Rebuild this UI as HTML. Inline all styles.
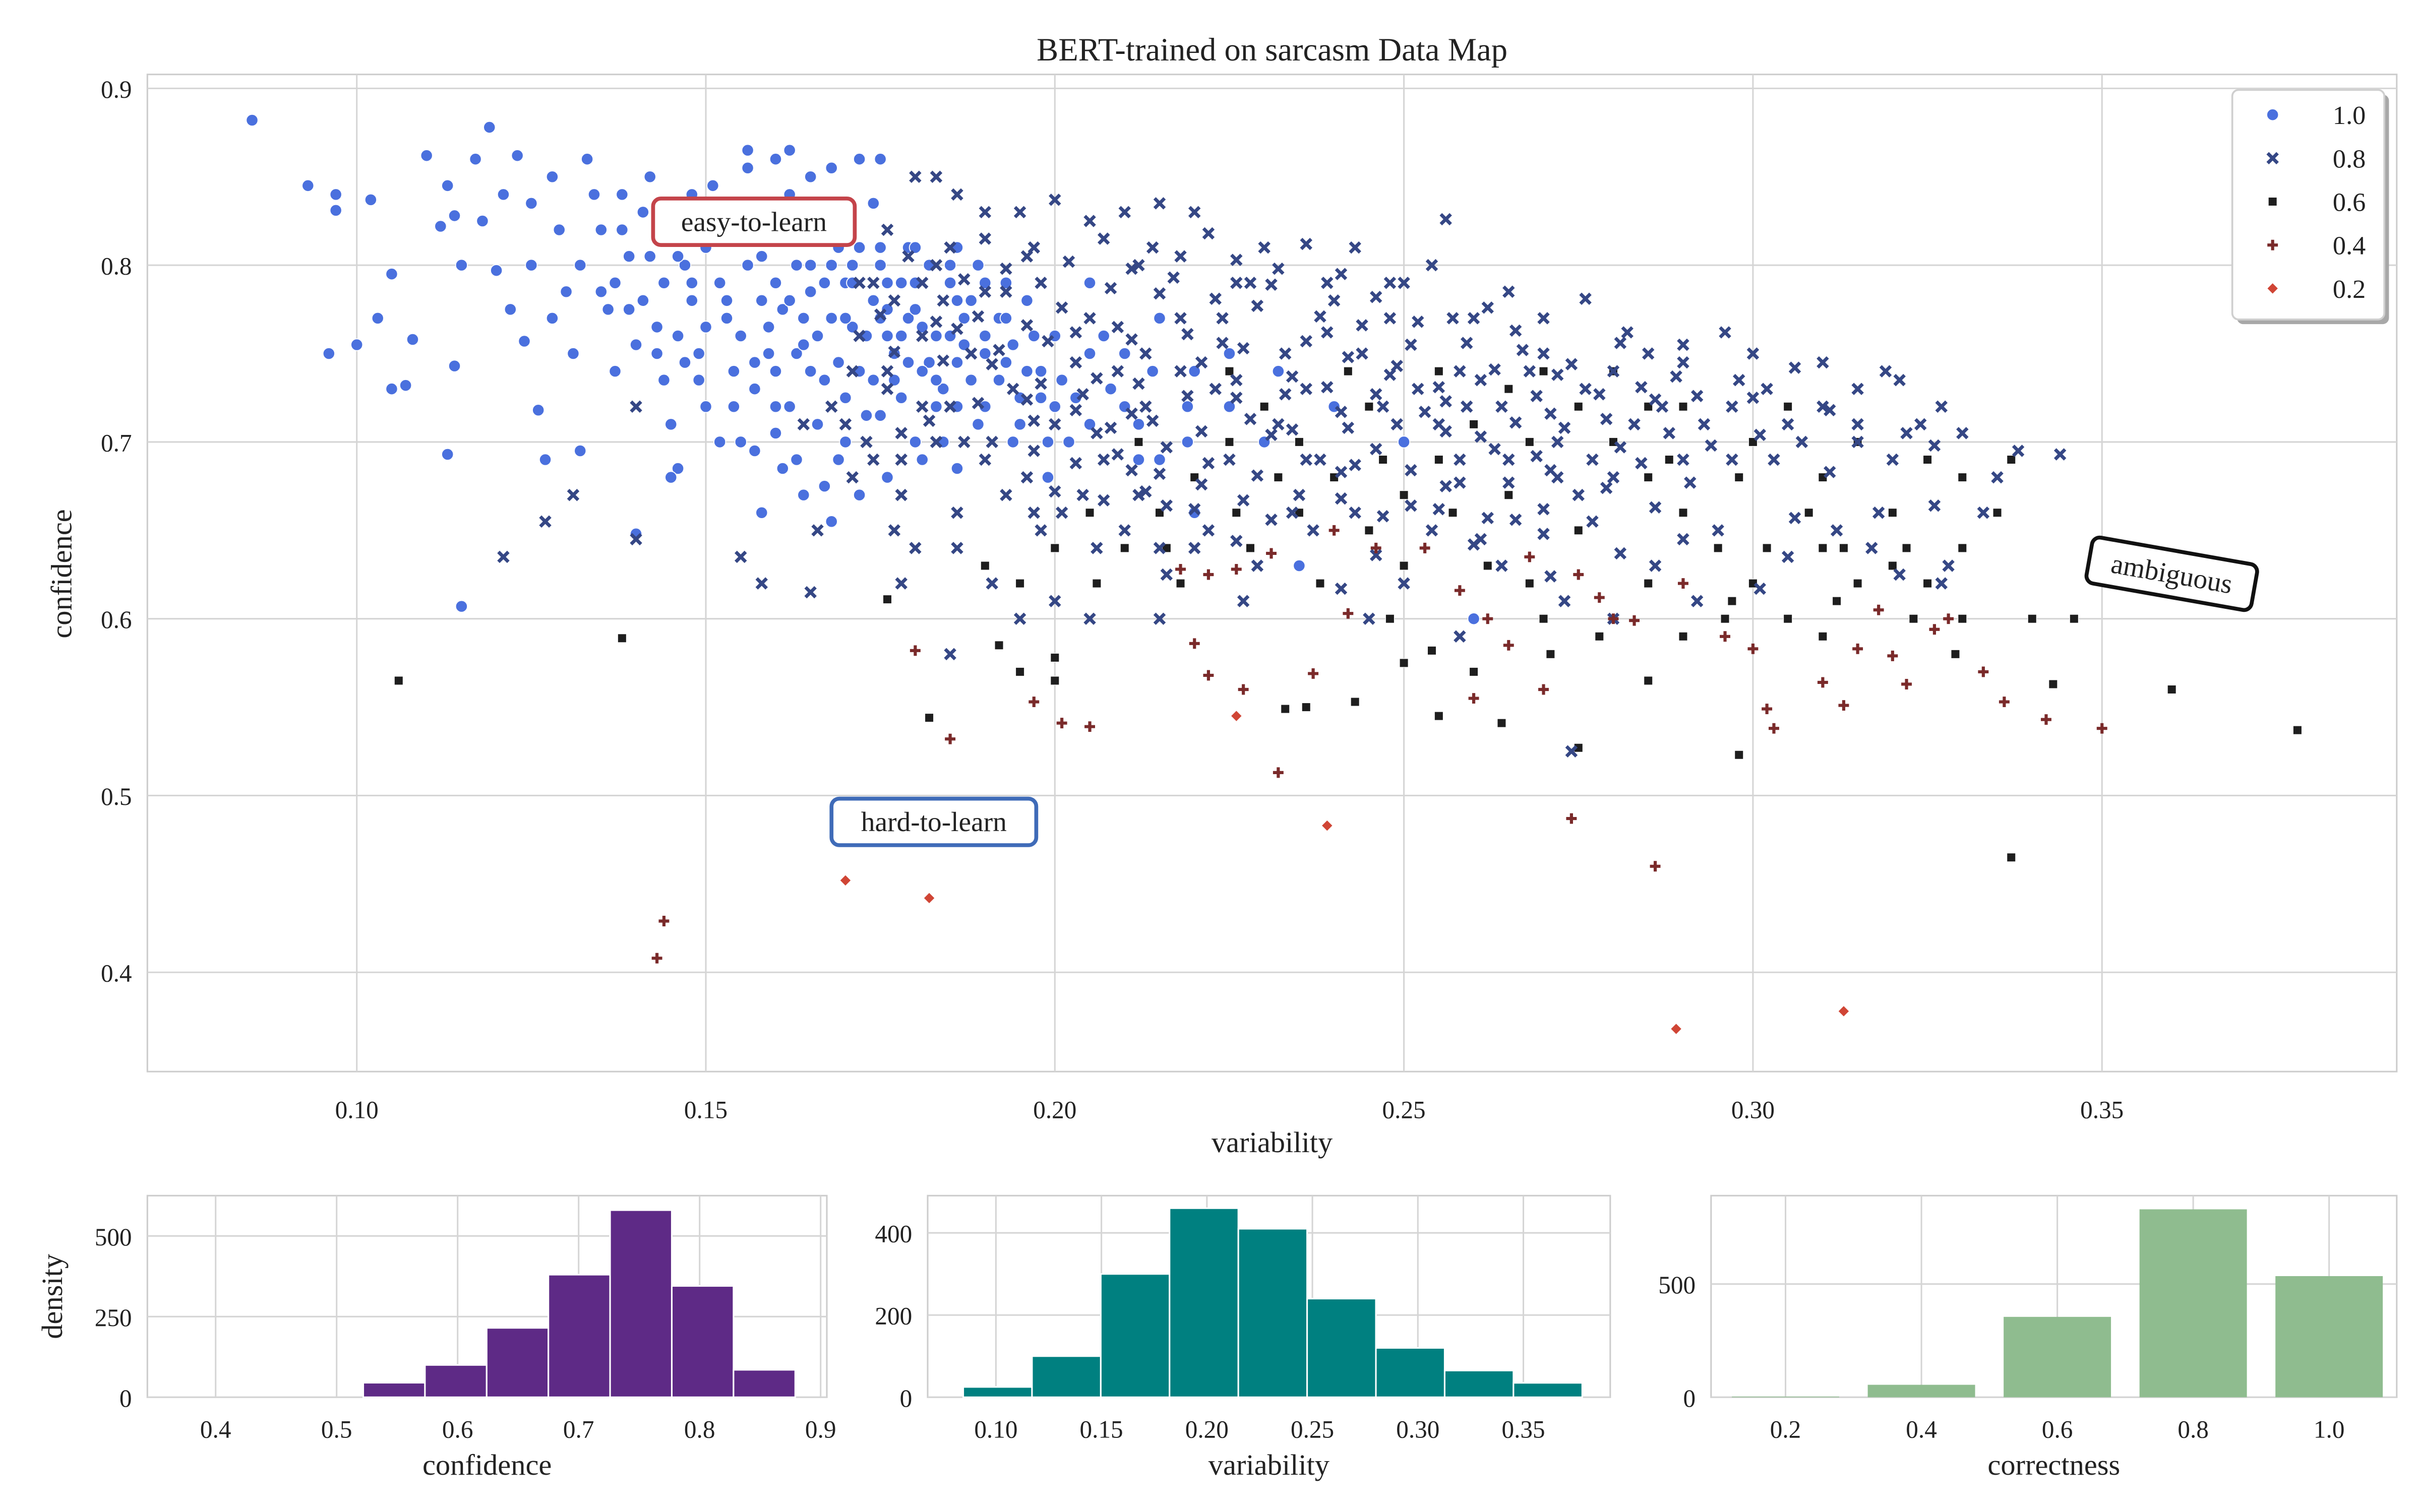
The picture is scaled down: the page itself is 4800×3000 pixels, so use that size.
<!DOCTYPE html>
<html><head><meta charset="utf-8"><style>
html,body{margin:0;padding:0;background:#fff}
svg{display:block}
text{font-family:"Liberation Serif",serif;fill:#222}
</style></head><body>
<svg id="chart" width="4800" height="3000" viewBox="0 0 1560 975" xmlns="http://www.w3.org/2000/svg">
<rect x="0" y="0" width="1560" height="975" fill="#fff"/>
<g id="main"></g><g id="h1"></g><g id="h2"></g><g id="h3"></g>
</svg>
<script>
// ---------- DATA ----------
const legendLabels = ["1.0","0.8","0.6","0.4","0.2"];
const xTicksMain = [0.10,0.15,0.20,0.25,0.30,0.35];
const yTicksMain = [0.4,0.5,0.6,0.7,0.8,0.9];
const pts10 = [[0.085,0.882],[0.093,0.845],[0.097,0.84],[0.097,0.831],[0.096,0.75],[0.1,0.755],[0.102,0.837],[0.103,0.77],[0.105,0.795],[0.105,0.73],[0.107,0.732],[0.108,0.758],[0.11,0.862],[0.112,0.822],[0.114,0.828],[0.115,0.8],[0.113,0.845],[0.114,0.743],[0.113,0.693],[0.115,0.607],[0.117,0.86],[0.118,0.825],[0.119,0.878],[0.12,0.797],[0.121,0.84],[0.122,0.775],[0.123,0.862],[0.124,0.757],[0.125,0.835],[0.126,0.718],[0.127,0.69],[0.128,0.85],[0.129,0.82],[0.13,0.785],[0.131,0.75],[0.132,0.695],[0.133,0.86],[0.134,0.84],[0.135,0.785],[0.136,0.775],[0.137,0.74],[0.138,0.84],[0.139,0.805],[0.14,0.755],[0.141,0.83],[0.142,0.805],[0.143,0.765],[0.144,0.735],[0.145,0.71],[0.146,0.685],[0.147,0.8],[0.148,0.78],[0.149,0.75],[0.15,0.72],[0.151,0.845],[0.152,0.79],[0.153,0.77],[0.154,0.74],[0.155,0.7],[0.156,0.865],[0.157,0.82],[0.158,0.78],[0.159,0.75],[0.16,0.72],[0.161,0.685],[0.162,0.84],[0.163,0.8],[0.164,0.77],[0.165,0.74],[0.166,0.71],[0.167,0.675],[0.168,0.855],[0.169,0.81],[0.17,0.79],[0.171,0.765],[0.172,0.74],[0.173,0.715],[0.174,0.835],[0.175,0.8],[0.176,0.775],[0.177,0.75],[0.178,0.725],[0.179,0.81],[0.18,0.79],[0.181,0.765],[0.182,0.745],[0.183,0.72],[0.184,0.7],[0.185,0.8],[0.186,0.78],[0.187,0.755],[0.188,0.735],[0.189,0.71],[0.19,0.79],[0.192,0.77],[0.193,0.745],[0.195,0.725],[0.197,0.76],[0.198,0.74],[0.2,0.72],[0.202,0.7],[0.205,0.75],[0.208,0.73],[0.212,0.71],[0.215,0.69],[0.158,0.66],[0.168,0.655],[0.172,0.67],[0.163,0.69],[0.145,0.68],[0.14,0.648],[0.152,0.7],[0.15,0.81],[0.16,0.79],[0.165,0.8],[0.17,0.77],[0.155,0.76],[0.147,0.82],[0.142,0.85],[0.138,0.82],[0.176,0.79],[0.182,0.8],[0.188,0.78],[0.178,0.76],[0.174,0.78],[0.166,0.76],[0.156,0.8],[0.153,0.83],[0.185,0.76],[0.193,0.77],[0.2,0.76],[0.21,0.75],[0.22,0.74],[0.215,0.77],[0.205,0.79],[0.161,0.775],[0.167,0.79],[0.171,0.8],[0.173,0.76],[0.179,0.77],[0.181,0.74],[0.186,0.745],[0.19,0.76],[0.184,0.73],[0.177,0.735],[0.169,0.745],[0.163,0.75],[0.157,0.745],[0.15,0.765],[0.146,0.76],[0.144,0.79],[0.141,0.78],[0.132,0.8],[0.128,0.77],[0.125,0.8],[0.135,0.82],[0.16,0.74],[0.175,0.715],[0.194,0.7],[0.199,0.68],[0.225,0.72],[0.23,0.7],[0.22,0.66],[0.235,0.63],[0.24,0.72],[0.25,0.7],[0.26,0.6],[0.172,0.86],[0.162,0.865],[0.156,0.855],[0.18,0.7],[0.186,0.685],[0.157,0.695],[0.17,0.7],
[0.171,0.79],[0.175,0.77],[0.178,0.79],[0.18,0.775],[0.183,0.76],[0.187,0.77],[0.19,0.75],[0.192,0.735],[0.194,0.755],[0.196,0.74],[0.198,0.725],[0.201,0.735],[0.203,0.725],[0.165,0.785],[0.168,0.77],[0.162,0.78],[0.159,0.765],[0.164,0.755],[0.167,0.735],[0.17,0.725],[0.174,0.735],[0.176,0.76],[0.179,0.745],[0.183,0.735],[0.186,0.72],[0.19,0.72],[0.195,0.71],[0.199,0.7],[0.185,0.79],[0.189,0.8],[0.193,0.79],[0.196,0.78],[0.175,0.81],[0.168,0.8],[0.158,0.805],[0.153,0.78],[0.148,0.79],[0.149,0.735],[0.157,0.73],[0.162,0.72],[0.154,0.72],[0.147,0.745],[0.143,0.75],[0.139,0.775],[0.137,0.79],[0.146,0.805],[0.151,0.825],[0.158,0.82],[0.166,0.825],[0.172,0.81],[0.18,0.81],[0.186,0.81],[0.205,0.71],[0.21,0.72],[0.207,0.76],[0.214,0.74],[0.219,0.72],[0.225,0.75],[0.232,0.74],[0.212,0.69],[0.219,0.7],[0.181,0.69],[0.176,0.68],[0.169,0.69],[0.164,0.67],[0.16,0.705],[0.175,0.86],[0.165,0.85],[0.16,0.86],[0.145,0.83],[0.148,0.84]];
const pts08 = [[0.121,0.635],[0.127,0.655],[0.131,0.67],[0.14,0.645],[0.14,0.72],[0.155,0.635],[0.158,0.62],[0.166,0.65],[0.165,0.615],[0.18,0.64],[0.185,0.58],[0.177,0.65],[0.178,0.69],[0.183,0.7],[0.18,0.85],[0.183,0.85],[0.186,0.84],[0.19,0.83],[0.195,0.83],[0.2,0.837],[0.21,0.83],[0.215,0.835],[0.22,0.83],[0.23,0.81],[0.239,0.79],[0.25,0.79],[0.256,0.826],[0.26,0.77],[0.27,0.75],[0.28,0.74],[0.29,0.745],[0.298,0.735],[0.3,0.725],[0.31,0.72],[0.319,0.74],[0.324,0.71],[0.33,0.705],[0.338,0.695],[0.344,0.693],[0.274,0.525],[0.28,0.6],[0.25,0.62],
[0.176,0.82],[0.19,0.815],[0.205,0.825],[0.222,0.818],[0.236,0.812],[0.183,0.8],[0.196,0.805],[0.211,0.798],[0.226,0.803],[0.241,0.795],[0.254,0.8],[0.177,0.78],[0.19,0.785],[0.201,0.776],[0.215,0.784],[0.229,0.777],[0.246,0.782],[0.262,0.776],[0.276,0.781],[0.172,0.76],[0.186,0.764],[0.199,0.757],[0.209,0.765],[0.224,0.756],[0.239,0.762],[0.251,0.755],[0.266,0.763],[0.281,0.756],[0.296,0.762],[0.176,0.74],[0.191,0.744],[0.206,0.736],[0.221,0.745],[0.234,0.737],[0.249,0.743],[0.261,0.735],[0.274,0.744],[0.289,0.737],[0.306,0.742],[0.321,0.735],[0.181,0.72],[0.196,0.724],[0.211,0.716],[0.226,0.725],[0.241,0.717],[0.256,0.723],[0.271,0.716],[0.286,0.724],[0.311,0.718],[0.191,0.7],[0.206,0.705],[0.216,0.697],[0.231,0.704],[0.246,0.696],[0.261,0.703],[0.281,0.697],[0.301,0.704],[0.326,0.698],[0.196,0.68],[0.211,0.684],[0.221,0.676],[0.241,0.683],[0.256,0.675],[0.271,0.684],[0.291,0.677],[0.311,0.683],[0.201,0.66],[0.216,0.664],[0.231,0.656],[0.251,0.664],[0.266,0.656],[0.286,0.663],[0.306,0.657],[0.326,0.664],[0.206,0.64],[0.226,0.644],[0.246,0.636],[0.261,0.645],[0.281,0.637],[0.191,0.62],[0.216,0.625],[0.241,0.617],[0.271,0.624],[0.301,0.617],[0.321,0.625],
[0.185,0.81],[0.198,0.79],[0.205,0.77],[0.213,0.75],[0.218,0.77],[0.203,0.745],[0.194,0.73],[0.188,0.75],[0.2,0.71],[0.207,0.69],[0.213,0.72],[0.218,0.74],[0.224,0.77],[0.228,0.79],[0.233,0.75],[0.236,0.73],[0.232,0.71],[0.238,0.69],[0.244,0.75],[0.248,0.77],[0.252,0.73],[0.255,0.71],[0.258,0.69],[0.264,0.72],[0.268,0.74],[0.272,0.7],[0.276,0.73],[0.283,0.71],[0.293,0.71],[0.297,0.69],[0.303,0.69],[0.315,0.7],[0.318,0.66],[0.295,0.65],[0.275,0.67],[0.265,0.69],[0.243,0.66],[0.235,0.67],[0.225,0.69],[0.212,0.67],[0.204,0.67],[0.198,0.65],[0.21,0.65],[0.22,0.64],[0.229,0.63],[0.237,0.65],[0.254,0.65],[0.264,0.63],[0.273,0.61],[0.286,0.63],[0.292,0.61],[0.312,0.65],[0.328,0.63],[0.333,0.66],[0.181,0.76],[0.174,0.79],[0.171,0.74],[0.168,0.72],[0.173,0.7],[0.164,0.71],[0.187,0.7],[0.193,0.67],[0.186,0.66],[0.178,0.67],[0.171,0.68],[0.2,0.61],[0.205,0.6],[0.215,0.6],[0.227,0.61],[0.245,0.6],[0.258,0.59],[0.212,0.8],[0.226,0.79],[0.24,0.78],[0.257,0.77],[0.27,0.77],[0.285,0.75],[0.243,0.81],[0.214,0.81],[0.197,0.81],[0.209,0.74],[0.223,0.73],[0.247,0.72],[0.258,0.74],[0.287,0.72],[0.302,0.73],[0.315,0.73],[0.327,0.72],[0.307,0.7],[0.32,0.69],[0.335,0.68],
[0.172,0.79],[0.179,0.805],[0.187,0.792],[0.193,0.798],[0.202,0.802],[0.208,0.787],[0.217,0.793],[0.223,0.781],[0.231,0.789],[0.238,0.771],[0.244,0.766],[0.252,0.768],[0.259,0.756],[0.267,0.752],[0.272,0.738],[0.278,0.727],[0.284,0.731],[0.292,0.726],[0.175,0.772],[0.183,0.768],[0.189,0.771],[0.196,0.766],[0.203,0.762],[0.211,0.758],[0.219,0.761],[0.227,0.753],[0.236,0.757],[0.242,0.748],[0.248,0.738],[0.255,0.731],[0.263,0.741],[0.269,0.726],[0.177,0.751],[0.184,0.746],[0.192,0.752],[0.198,0.733],[0.204,0.727],[0.212,0.733],[0.219,0.726],[0.226,0.735],[0.233,0.727],[0.239,0.731],[0.246,0.727],[0.253,0.717],[0.259,0.72],[0.266,0.711],[0.273,0.708],[0.279,0.713],[0.176,0.73],[0.182,0.712],[0.189,0.722],[0.197,0.712],[0.203,0.718],[0.208,0.708],[0.214,0.712],[0.221,0.706],[0.228,0.713],[0.234,0.707],[0.242,0.708],[0.249,0.71],[0.256,0.706],[0.263,0.696],[0.269,0.692],[0.277,0.69],[0.284,0.688],[0.19,0.69],[0.197,0.695],[0.203,0.688],[0.209,0.693],[0.215,0.682],[0.222,0.688],[0.229,0.681],[0.236,0.69],[0.243,0.687],[0.251,0.684],[0.258,0.677],[0.265,0.677],[0.272,0.68],[0.279,0.674],[0.29,0.69],[0.2,0.672],[0.207,0.667],[0.213,0.672],[0.22,0.662],[0.227,0.667],[0.234,0.66],[0.241,0.668],[0.247,0.658],[0.255,0.662],[0.262,0.657],[0.27,0.662],[0.277,0.655],[0.184,0.78],[0.193,0.785],[0.181,0.79],[0.207,0.815],[0.218,0.805],[0.232,0.798],[0.248,0.79],[0.265,0.785],[0.282,0.762],[0.29,0.755],[0.3,0.75],[0.31,0.745],[0.297,0.72],[0.305,0.71],[0.315,0.71],[0.322,0.705],[0.288,0.705],[0.294,0.698],[0.28,0.68],[0.27,0.648],[0.26,0.642],[0.29,0.645],[0.305,0.635],[0.317,0.64],[0.327,0.62],[0.215,0.64],[0.222,0.65],[0.197,0.66],[0.186,0.64],[0.178,0.62],[0.195,0.6],[0.185,0.72],[0.178,0.705],[0.17,0.71],[0.174,0.69]];
const pts06 = [[0.106,0.565],[0.138,0.589],[0.176,0.611],[0.182,0.544],[0.337,0.465],[0.378,0.537],[0.36,0.56],[0.346,0.6],[0.343,0.563],[0.34,0.6],[0.275,0.527],[0.298,0.523],[0.192,0.585],[0.195,0.57],[0.2,0.578],[0.2,0.565],[0.233,0.549],[0.236,0.55],[0.243,0.553],[0.255,0.545],[0.264,0.541],[0.25,0.575],[0.254,0.582],[0.26,0.57],[0.271,0.58],[0.285,0.565],[0.29,0.59],[0.297,0.61],[0.305,0.6],[0.31,0.59],[0.315,0.62],[0.32,0.63],[0.325,0.62],[0.33,0.64],[0.335,0.66],[0.337,0.69],[0.33,0.6],[0.3,0.62],[0.295,0.64],[0.29,0.66],[0.285,0.68],[0.28,0.7],[0.275,0.72],[0.27,0.74],[0.265,0.73],[0.26,0.71],[0.255,0.69],[0.25,0.67],[0.245,0.65],[0.24,0.68],[0.235,0.7],[0.23,0.72],[0.225,0.7],[0.22,0.68],[0.215,0.66],[0.21,0.64],[0.205,0.66],[0.2,0.64],[0.195,0.62],[0.19,0.63],[0.235,0.66],[0.245,0.72],[0.255,0.74],[0.265,0.67],[0.275,0.65],[0.285,0.62],[0.3,0.7],[0.31,0.68],[0.32,0.66],[0.305,0.72],[0.315,0.7],[0.325,0.69],[0.28,0.74],[0.29,0.72],[0.298,0.68],[0.262,0.63],[0.248,0.6],[0.238,0.62],[0.228,0.64],[0.218,0.62],[0.27,0.6],[0.25,0.63],[0.242,0.74],[0.232,0.68],[0.212,0.7],[0.225,0.74],[0.285,0.72],[0.308,0.66],[0.33,0.68],[0.322,0.64],[0.31,0.64],[0.296,0.6],[0.278,0.59],[0.268,0.62],[0.257,0.66],[0.247,0.69],[0.268,0.7],[0.288,0.69],[0.312,0.61],[0.302,0.64],[0.226,0.66],[0.216,0.64],[0.206,0.62],[0.313,0.64],[0.329,0.58],[0.323,0.6]];
const pts04 = [[0.143,0.408],[0.144,0.429],[0.18,0.582],[0.185,0.532],[0.197,0.553],[0.201,0.541],[0.205,0.539],[0.222,0.568],[0.22,0.586],[0.227,0.56],[0.232,0.513],[0.237,0.569],[0.218,0.628],[0.226,0.628],[0.242,0.603],[0.26,0.555],[0.274,0.487],[0.286,0.46],[0.27,0.56],[0.283,0.599],[0.3,0.583],[0.302,0.549],[0.303,0.538],[0.31,0.564],[0.313,0.551],[0.315,0.583],[0.32,0.579],[0.322,0.563],[0.326,0.594],[0.333,0.57],[0.336,0.553],[0.342,0.543],[0.35,0.538],[0.258,0.616],[0.275,0.625],[0.246,0.64],[0.24,0.65],[0.253,0.64],[0.278,0.612],[0.29,0.62],[0.265,0.585],[0.222,0.625],[0.231,0.637],[0.262,0.6],[0.268,0.635],[0.28,0.6],[0.296,0.59],[0.318,0.605],[0.328,0.6]];
const pts02 = [[0.17,0.452],[0.182,0.442],[0.239,0.483],[0.289,0.368],[0.313,0.378],[0.226,0.545]];
// histograms
const confBinEdges = [0.522,0.573,0.624,0.675,0.726,0.777,0.828,0.879];
const confCounts = [45,100,215,380,580,345,85];
const confTicks = [0.4,0.5,0.6,0.7,0.8,0.9];
const confYTicks = [0,250,500];
const varBinEdges = [0.0845,0.1171,0.1497,0.1823,0.2149,0.2475,0.2801,0.3127,0.3453,0.3779];
const varCounts = [25,100,300,460,410,240,120,65,35];
const varTicks = [0.10,0.15,0.20,0.25,0.30,0.35];
const varYTicks = [0,200,400];
const corrCats = [0.2,0.4,0.6,0.8,1.0];
const corrCounts = [3,55,355,830,535];
const corrYTicks = [0,500];

// ---------- helpers ----------
const NS="http://www.w3.org/2000/svg";
function mk(tag,attrs,parent){const e=document.createElementNS(NS,tag);for(const k in attrs)e.setAttribute(k,attrs[k]);parent.appendChild(e);return e;}
function txt(parent,x,y,s,size,anchor,extra){const t=mk('text',Object.assign({x:x,y:y,'font-size':size,'text-anchor':anchor||'middle'},extra||{}),parent);t.textContent=s;return t;}

// ---------- main ----------
const M=document.getElementById('main');
const L=95,R=1545,T=48,B=691;
const xS=v=>230+(v-0.10)*4500;
const yS=c=>57+(0.9-c)*1140;
let g;
g=mk('rect',{x:L,y:T,width:R-L,height:B-T,fill:'#fff',stroke:'#cccccc','stroke-width':1},M);


xTicksMain.forEach(v=>{
  const l=mk('line',{x1:xS(v),x2:xS(v),y1:T,y2:B,stroke:'#d5d5d5','stroke-width':1},M);
  
  
  const t=txt(M,xS(v),721,v.toFixed(2),16);
  
  
});
yTicksMain.forEach(v=>{
  const l=mk('line',{x1:L,x2:R,y1:yS(v),y2:yS(v),stroke:'#d5d5d5','stroke-width':1},M);
  
  
  const t=txt(M,85,yS(v)+6,v.toFixed(1),16,'end');
  
  
});
let tt=txt(M,820,39,'BERT-trained on sarcasm Data Map',21);


tt=txt(M,820,743,'variability',19);


tt=txt(M,0,0,'confidence',19,'middle',{transform:'translate(46,370) rotate(-90)'});



const COL={c10:'#4a70de',c08:'#354785',c06:'#1e1e1e',c04:'#7a2a2a',c02:'#d04535'};
function drawCircle(p,x,y,s){return mk('circle',{cx:x,cy:y,r:3.8*s,fill:COL.c10,stroke:'#fff','stroke-width':0.6},p);}
function drawX(p,x,y,s){const d=3.2*s;return mk('path',{d:`M${x-d},${y-d}L${x+d},${y+d}M${x-d},${y+d}L${x+d},${y-d}`,stroke:COL.c08,'stroke-width':2.2*s,fill:'none'},p);}
function drawSq(p,x,y,s){const d=2.8*s;return mk('rect',{x:x-d,y:y-d,width:2*d,height:2*d,fill:COL.c06,stroke:'#fff','stroke-width':0.4},p);}
function drawPlus(p,x,y,s){const d=3.4*s;return mk('path',{d:`M${x-d},${y}L${x+d},${y}M${x},${y-d}L${x},${y+d}`,stroke:COL.c04,'stroke-width':2*s,fill:'none'},p);}
function drawDia(p,x,y,s){const d=3.6*s;return mk('path',{d:`M${x},${y-d}L${x+d},${y}L${x},${y+d}L${x-d},${y}Z`,fill:COL.c02,stroke:'#fff','stroke-width':0.4},p);}

const series=[[pts06,drawSq,'point-correctness-0.6'],[pts10,drawCircle,'point-correctness-1.0'],[pts08,drawX,'point-correctness-0.8'],[pts04,drawPlus,'point-correctness-0.4'],[pts02,drawDia,'point-correctness-0.2']];
series.forEach(([arr,fn,name])=>{
  arr.forEach(([v,c])=>{
    const e=fn(M,xS(v),yS(c),1);
    
    
  });
});

// annotations
function ann(x,y,w,h,label,color,rot,name){
  const gg=mk('g',{transform:`translate(${x},${y}) rotate(${rot})`},M);
  
  
  mk('rect',{x:-w/2,y:-h/2,width:w,height:h,rx:5,fill:'#fff',stroke:color,'stroke-width':2.5},gg);
  txt(gg,0,6,label,18);
}
ann(486,143,130,30,'easy-to-learn','#c4444a',0,'easy-to-learn-annotation');
ann(602,530,132,30,'hard-to-learn','#3f6bb8',0,'hard-to-learn-annotation');
ann(1400,370,108,30,'ambiguous','#111',10,'ambiguous-annotation');

// legend
const lg=mk('g',{},M);


mk('rect',{x:1442,y:61,width:98,height:148,rx:4,fill:'#a8a8a8'},lg);
mk('rect',{x:1439,y:58,width:98,height:148,rx:4,fill:'#fff',stroke:'#cfcfcf','stroke-width':1.2},lg);
const lfns=[drawCircle,drawX,drawSq,drawPlus,drawDia];
legendLabels.forEach((lab,i)=>{
  const y=74+i*28;
  const m=lfns[i](lg,1465,y,1);
  
  
  const t=txt(lg,1525,y+6,lab,17,'end');
  
  
});

// ---------- histograms ----------
function frame(G,l,r,t,b,name){
  const e=mk('rect',{x:l,y:t,width:r-l,height:b-t,fill:'#fff',stroke:'#cccccc','stroke-width':1},G);
  
  
}
function hist(G,l,r,t,b,xf,yf,xt,xfmt,yt,edges,counts,color,xlabel,ylabel,name,cats,bw){
  frame(G,l,r,t,b,name+'-area');
  xt.forEach(v=>{
    const ln=mk('line',{x1:xf(v),x2:xf(v),y1:t,y2:b,stroke:'#d5d5d5'},G);
    
    
    const tx=txt(G,xf(v),927,xfmt(v),16);
    
    
  });
  yt.forEach(v=>{
    const ln=mk('line',{x1:l,x2:r,y1:yf(v),y2:yf(v),stroke:'#d5d5d5'},G);
    
    
    const tx=txt(G,l-10,yf(v)+6,String(v),16,'end');
    
    
  });
  counts.forEach((c,i)=>{
    let x0,x1;
    if(cats){x0=xf(cats[i]-bw/2);x1=xf(cats[i]+bw/2);}else{x0=xf(edges[i]);x1=xf(edges[i+1]);}
    const br=mk('rect',{x:x0,y:yf(c),width:x1-x0,height:yf(0)-yf(c),fill:color,stroke:'#fff','stroke-width':cats?0:1},G);
    
    
  });
  let tx=txt(G,(l+r)/2,951,xlabel,19);
  
  
  if(ylabel){
    tx=txt(G,0,0,ylabel,19,'middle',{transform:`translate(40,${(t+b)/2}) rotate(-90)`});
    
    
  }
}
const H1=document.getElementById('h1'),H2=document.getElementById('h2'),H3=document.getElementById('h3');
hist(H1,95,533,771,901,v=>139+(v-0.4)*780,c=>901-c*0.208,confTicks,v=>v.toFixed(1),confYTicks,confBinEdges,confCounts,'#5e2a86','confidence','density','confidence-histogram');
hist(H2,598,1038,771,901,v=>642+(v-0.10)*1360,c=>901-c*0.265,varTicks,v=>v.toFixed(2),varYTicks,varBinEdges,varCounts,'#008080','variability',null,'variability-histogram');
hist(H3,1103,1545,771,901,v=>1151+(v-0.2)*438,c=>901-c*0.146,corrCats,v=>v.toFixed(1),corrYTicks,null,corrCounts,'#8fbc8f','correctness',null,'correctness-histogram',corrCats,0.158);
</script>
</body></html>
